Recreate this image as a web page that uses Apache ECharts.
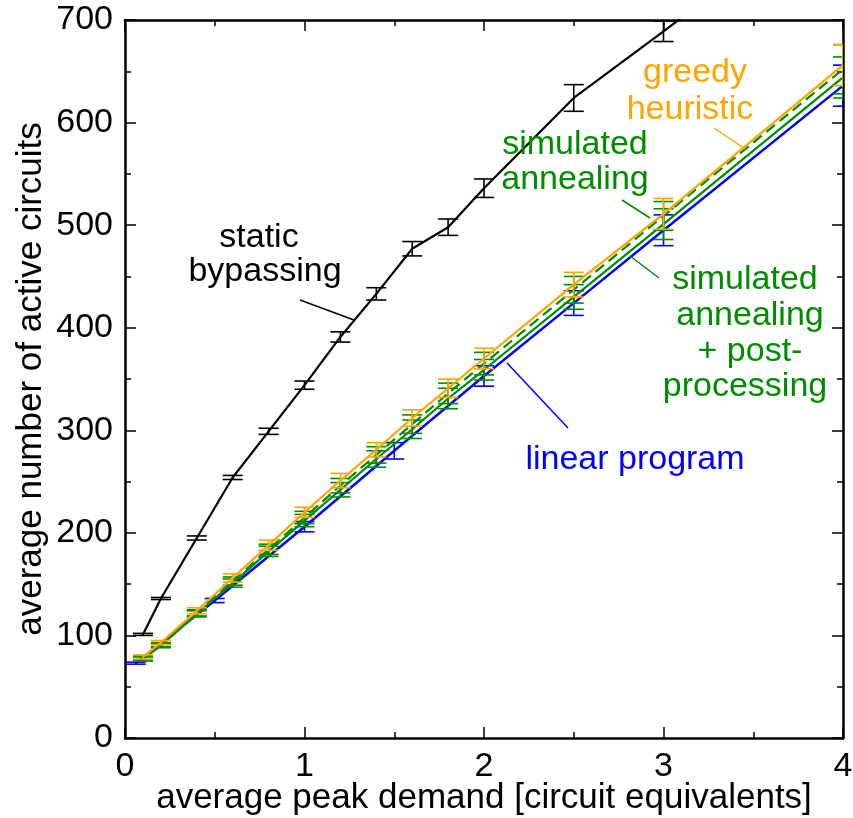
<!DOCTYPE html>
<html><head><meta charset="utf-8">
<script src="https://cdn.jsdelivr.net/npm/echarts@6/dist/echarts.min.js"></script>
<style>html,body{margin:0;padding:0;background:#fff}#c{width:853px;height:818px}</style>
</head><body><div id="c"></div>
<script>
// ---- data ----
const xStatic  = [0.1,0.2,0.4,0.6,0.8,1.0,1.2,1.4,1.6,1.8,2.0,2.5,3.0,4.0];
const yStatic  = [101,136,195,254,299,344,391,433,477,498,536,624,689,820];
const eStatic  = [1,1,2,2,3,4,5,6,7,8,9,13,10,15];

const xHeur    = [0.1,0.2,0.4,0.6,0.8,1.0,1.2,1.4,1.6,1.8,2.0,2.5,3.0,4.0];
const yGreedy  = [79,93,124,156,188,220,251,281,312,341,370,442,511,656];
const eGreedy  = [2,2,3,4,5,5,7,7,8,9,10,12,15,20];
const ySA      = [78,91,122,153,184,215,246,276,306,336,365,437,509,652];
const eSA      = [2,2,3,4,5,6,7,8,9,10,11,13,14,24];
const ySAPP    = [77,90,121,151,182,212,242,272,301,331,359,430,501,644];
const eSAPP    = [2,2,3,4,5,6,7,8,9,10,10,12,15,20];

const xLP      = [0.06,0.5,1.0,1.5,2.0,2.5,3.0,4.0];
const yLP      = [73,134,206,280,353,424,495,636];
const eLP      = [1,2,5,8,10,12,15,20];

const xTicks = [0,1,2,3,4];
const yTicks = [0,100,200,300,400,500,600,700];

const FONT = "'Liberation Sans', Arial, Helvetica, sans-serif";
const C_BLACK = '#000000', C_ORANGE = '#ffa500', C_GREEN = '#008c00', C_BLUE = '#0000ff';

function pairs(xs, ys){ return xs.map((x,i)=>[x, ys[i]]); }
function triples(xs, ys, es){ return xs.map((x,i)=>[x, ys[i], es[i]]); }

function errSeries(xs, ys, es, color, z){
  return {
    type:'custom', z:z, clip:true, silent:true,
    data: triples(xs, ys, es),
    renderItem: function(params, api){
      const x = api.value(0), y = api.value(1), e = api.value(2);
      const p1 = api.coord([x, y+e]), p2 = api.coord([x, y-e]);
      const hw = 10;
      const st = {stroke:color, lineWidth:1.6};
      return {type:'group', children:[
        {type:'line', shape:{x1:p1[0], y1:p1[1], x2:p2[0], y2:p2[1]}, style:st},
        {type:'line', shape:{x1:p1[0]-hw, y1:p1[1], x2:p1[0]+hw, y2:p1[1]}, style:st},
        {type:'line', shape:{x1:p2[0]-hw, y1:p2[1], x2:p2[0]+hw, y2:p2[1]}, style:st}
      ]};
    }
  };
}
function lineSeries(xs, ys, color, z, dashed, w){
  return {
    type:'line', z:z, showSymbol:false, symbol:'none', clip:true, silent:true,
    data: pairs(xs, ys),
    lineStyle:{color:color, width:w||2, type: dashed ? [11,6] : 'solid'}
  };
}

const axisCommon = {
  axisLine:{show:true, onZero:false, lineStyle:{color:'#000', width:2.5}},
  axisTick:{show:true, inside:true, length:11, lineStyle:{color:'#000', width:1.5}},
  minorTick:{show:true, splitNumber:2, length:6, lineStyle:{color:'#000', width:1.5}},
  splitLine:{show:false}
};

const chart = echarts.init(document.getElementById('c'), null, {renderer:'canvas'});

function txt(x, y, s, color){
  return {type:'text', x:x, y:y, style:{text:s, fill:color, font:'34px '+FONT, align:'center', verticalAlign:'middle'}, z:100};
}
function seg(x1,y1,x2,y2,color){
  return {type:'line', shape:{x1:x1,y1:y1,x2:x2,y2:y2}, style:{stroke:color, lineWidth:1.5}, z:100};
}

chart.setOption({
  animation:false,
  backgroundColor:'#fff',
  grid:{left:125, right:10, top:20, bottom:80, containLabel:false, outerBoundsMode:'none'},
  xAxis:[
    Object.assign({type:'value', min:0, max:4, interval:1, position:'bottom',
      name:'average peak demand [circuit equivalents]', nameLocation:'middle', nameGap:43,
      nameMoveOverlap:false,
      nameTextStyle:{fontFamily:FONT, fontSize:35, color:'#000'},
      axisLabel:{show:true, fontFamily:FONT, fontSize:34, color:'#000', margin:12,
        formatter: v => xTicks.includes(v) ? String(v) : ''}}, axisCommon),
    Object.assign({type:'value', min:0, max:4, interval:1, position:'top', axisLabel:{show:false}}, axisCommon)
  ],
  yAxis:[
    Object.assign({type:'value', min:0, max:700, interval:100, position:'left',
      name:'average number of active circuits', nameLocation:'middle', nameGap:76,
      nameMoveOverlap:false,
      nameTextStyle:{fontFamily:FONT, fontSize:35, color:'#000'},
      axisLabel:{show:true, fontFamily:FONT, fontSize:34, color:'#000', margin:12,
        formatter: v => yTicks.includes(v) ? String(v) : ''}}, axisCommon),
    Object.assign({type:'value', min:0, max:700, interval:100, position:'right', axisLabel:{show:false}}, axisCommon)
  ],
  series:[
    errSeries(xLP, yLP, eLP, C_BLUE, 1),
    lineSeries(xLP, yLP, C_BLUE, 2, false, 2.5),
    errSeries(xHeur, ySAPP, eSAPP, C_GREEN, 3),
    lineSeries(xHeur, ySAPP, C_GREEN, 4, false, 2.2),
    errSeries(xHeur, ySA, eSA, C_GREEN, 5),
    lineSeries(xHeur, ySA, C_GREEN, 6, true, 2.2),
    errSeries(xHeur, yGreedy, eGreedy, C_ORANGE, 7),
    lineSeries(xHeur, yGreedy, C_ORANGE, 8, false, 2.2),
    errSeries(xStatic, yStatic, eStatic, C_BLACK, 9),
    lineSeries(xStatic, yStatic, C_BLACK, 10, false, 2.2)
  ],
  graphic:[
    txt(259, 238, 'static', C_BLACK),
    txt(265, 272, 'bypassing', C_BLACK),
    seg(300, 300, 354, 320, C_BLACK),
    txt(695, 73, 'greedy', C_ORANGE),
    txt(690, 110, 'heuristic', C_ORANGE),
    seg(714, 128, 745, 149, C_ORANGE),
    txt(575, 145, 'simulated', C_GREEN),
    txt(575, 180, 'annealing', C_GREEN),
    seg(622, 200, 650, 218, C_GREEN),
    txt(745, 280, 'simulated', C_GREEN),
    txt(750, 316, 'annealing', C_GREEN),
    txt(750, 352, '+ post-', C_GREEN),
    txt(745, 387, 'processing', C_GREEN),
    seg(630, 256, 659, 278, C_GREEN),
    txt(635, 460, 'linear program', C_BLUE),
    seg(507, 363, 568, 428, C_BLUE)
  ]
});
</script>
</body></html>
